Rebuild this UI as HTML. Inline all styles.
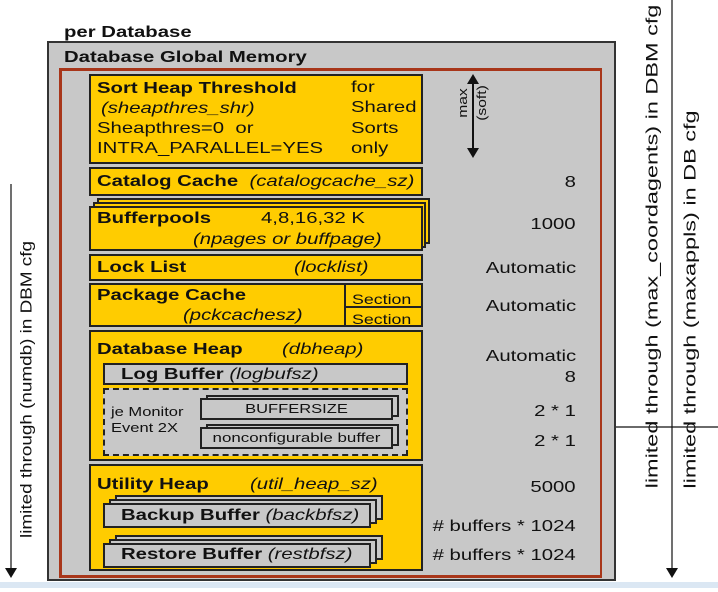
<!DOCTYPE html>
<html><head><meta charset="utf-8"><style>
*{margin:0;padding:0;box-sizing:border-box}
body{width:718px;height:588px;background:#fff;position:relative;overflow:hidden;font-family:"Liberation Sans",Arial,sans-serif;color:#111}
.a{position:absolute}
.y{position:absolute;background:#ffcc00;border:2px solid #222}
.g{position:absolute;background:#c8c8c8;border:2px solid #222}
.t{position:absolute;font-size:16px;white-space:nowrap;line-height:17px;transform:scaleX(1.27);transform-origin:left center}
.c{transform-origin:center center}
.b{font-weight:bold}
.i{font-style:italic}
.v{position:absolute;right:142px;font-size:16px;white-space:nowrap;line-height:17px;transform:scaleX(1.27);transform-origin:right center}
.rot{position:absolute;transform-origin:center;white-space:nowrap;font-size:15px;line-height:17px}
</style></head><body>
<div class="t b" style="left:64px;top:24px">per Database</div>
<div class="a" style="left:47px;top:41px;width:569px;height:540px;background:#c8c8c8;border:2px solid #333"></div>
<div class="t b" style="left:64px;top:49px">Database Global Memory</div>
<div class="a" style="left:59px;top:68px;width:543px;height:510px;border:3px solid #a8361a;border-right-width:2px"></div>

<div class="y" style="left:89px;top:74px;width:334px;height:90px"></div>
<div class="t b" style="left:97px;top:80px">Sort Heap Threshold</div>
<div class="t i" style="left:101px;top:100px">(sheapthres_shr)</div>
<div class="t" style="left:97px;top:120px">Sheapthres=0&nbsp; or</div>
<div class="t" style="left:97px;top:140px">INTRA_PARALLEL=YES</div>
<div class="t" style="left:351px;top:79px">for</div>
<div class="t" style="left:351px;top:99px">Shared</div>
<div class="t" style="left:351px;top:120px">Sorts</div>
<div class="t" style="left:351px;top:140px">only</div>

<div class="y" style="left:89px;top:167px;width:334px;height:29px"></div>
<div class="t b" style="left:97px;top:173px">Catalog Cache <span class="i" style="font-weight:normal">&nbsp;(catalogcache_sz)</span></div>

<div class="y" style="left:97px;top:198px;width:333px;height:46px"></div>
<div class="y" style="left:93px;top:202px;width:333px;height:46px"></div>
<div class="y" style="left:89px;top:206px;width:334px;height:45px"></div>
<div class="t b" style="left:97px;top:210px">Bufferpools</div>
<div class="t" style="left:261px;top:210px">4,8,16,32 K</div>
<div class="t i" style="left:193px;top:231px">(npages or buffpage)</div>

<div class="y" style="left:89px;top:254px;width:334px;height:27px"></div>
<div class="t b" style="left:97px;top:259px">Lock List</div>
<div class="t i" style="left:294px;top:259px">(locklist)</div>

<div class="y" style="left:89px;top:283px;width:334px;height:44px"></div>
<div class="a" style="left:344px;top:284px;width:2px;height:42px;background:#222"></div>
<div class="a" style="left:345px;top:306px;width:77px;height:2px;background:#222"></div>
<div class="t b" style="left:97px;top:287px">Package Cache</div>
<div class="t i" style="left:183px;top:307px">(pckcachesz)</div>
<div class="t" style="left:352px;top:291px;font-size:14px">Section</div>
<div class="t" style="left:352px;top:311px;font-size:14px">Section</div>

<div class="y" style="left:89px;top:330px;width:334px;height:131px"></div>
<div class="t b" style="left:97px;top:341px">Database Heap</div>
<div class="t i" style="left:282px;top:341px">(dbheap)</div>
<div class="g" style="left:103px;top:363px;width:305px;height:22px"></div>
<div class="t b" style="left:121px;top:366px">Log Buffer <span class="i" style="font-weight:normal">(logbufsz)</span></div>
<div class="a" style="left:103px;top:388px;width:305px;height:68px;background:#c8c8c8;border:2px dashed #222"></div>
<div class="t" style="left:111px;top:404px;font-size:13px;line-height:16px">je Monitor<br>Event 2X</div>
<div class="g" style="left:206px;top:395px;width:193px;height:22px"></div>
<div class="g" style="left:200px;top:398px;width:193px;height:22px"></div>
<div class="t c" style="left:200px;top:400px;width:193px;text-align:center;font-size:13px">BUFFERSIZE</div>
<div class="g" style="left:206px;top:424px;width:193px;height:22px"></div>
<div class="g" style="left:200px;top:427px;width:193px;height:22px"></div>
<div class="t c" style="left:200px;top:429px;width:193px;text-align:center;font-size:13px;transform:scaleX(1.3)">nonconfigurable buffer</div>

<div class="y" style="left:89px;top:464px;width:334px;height:107px"></div>
<div class="t b" style="left:97px;top:476px">Utility Heap</div>
<div class="t i" style="left:250px;top:476px">(util_heap_sz)</div>
<div class="g" style="left:115px;top:495px;width:268px;height:25px"></div>
<div class="g" style="left:109px;top:499px;width:268px;height:25px"></div>
<div class="g" style="left:103px;top:503px;width:268px;height:25px"></div>
<div class="t b" style="left:121px;top:507px">Backup Buffer <span class="i" style="font-weight:normal">(backbfsz)</span></div>
<div class="g" style="left:115px;top:535px;width:268px;height:25px"></div>
<div class="g" style="left:109px;top:539px;width:268px;height:25px"></div>
<div class="g" style="left:103px;top:543px;width:268px;height:25px"></div>
<div class="t b" style="left:121px;top:546px">Restore Buffer <span class="i" style="font-weight:normal">(restbfsz)</span></div>

<div class="v" style="top:174px">8</div>
<div class="v" style="top:216px">1000</div>
<div class="v" style="top:260px">Automatic</div>
<div class="v" style="top:298px">Automatic</div>
<div class="v" style="top:348px">Automatic</div>
<div class="v" style="top:369px">8</div>
<div class="v" style="top:403px">2 * 1</div>
<div class="v" style="top:433px">2 * 1</div>
<div class="v" style="top:479px">5000</div>
<div class="v" style="top:518px"># buffers * 1024</div>
<div class="v" style="top:547px"># buffers * 1024</div>

<svg class="a" style="left:0;top:0" width="718" height="588">
<line x1="473" y1="82" x2="473" y2="150" stroke="#111" stroke-width="2"/>
<polygon points="467,84 479,84 473,74" fill="#111"/>
<polygon points="467,148 479,148 473,158" fill="#111"/>
<line x1="11" y1="184" x2="11" y2="570" stroke="#111" stroke-width="1.2"/>
<polygon points="5,568 17,568 11,578" fill="#111"/>
<line x1="672" y1="0" x2="672" y2="570" stroke="#111" stroke-width="1.2"/>
<polygon points="666,568 678,568 672,578" fill="#111"/>
<line x1="616" y1="427" x2="718" y2="427" stroke="#111" stroke-width="1.2"/>
<rect x="0" y="582" width="718" height="6" fill="#dbe7f3"/>
</svg>
<div class="rot" style="left:423px;top:96px;width:80px;text-align:center;font-size:13px;line-height:14px;transform:rotate(-90deg) scaleX(1.2)">max</div>
<div class="rot" style="left:442px;top:96px;width:80px;text-align:center;font-size:13px;line-height:14px;transform:rotate(-90deg) scaleX(1.2)">(soft)</div>
<div class="rot" style="left:-123px;top:381px;width:300px;text-align:center;font-size:16px;transform:rotate(-90deg) scaleX(1.18)">limited through (numdb) in DBM cfg</div>
<div class="rot" style="left:402px;top:238px;width:500px;text-align:center;font-size:17px;transform:rotate(-90deg) scaleX(1.38)">limited through (max_coordagents) in DBM cfg</div>
<div class="rot" style="left:490px;top:291px;width:400px;text-align:center;font-size:17px;transform:rotate(-90deg) scaleX(1.38)">limited through (maxappls) in DB cfg</div>
</body></html>
